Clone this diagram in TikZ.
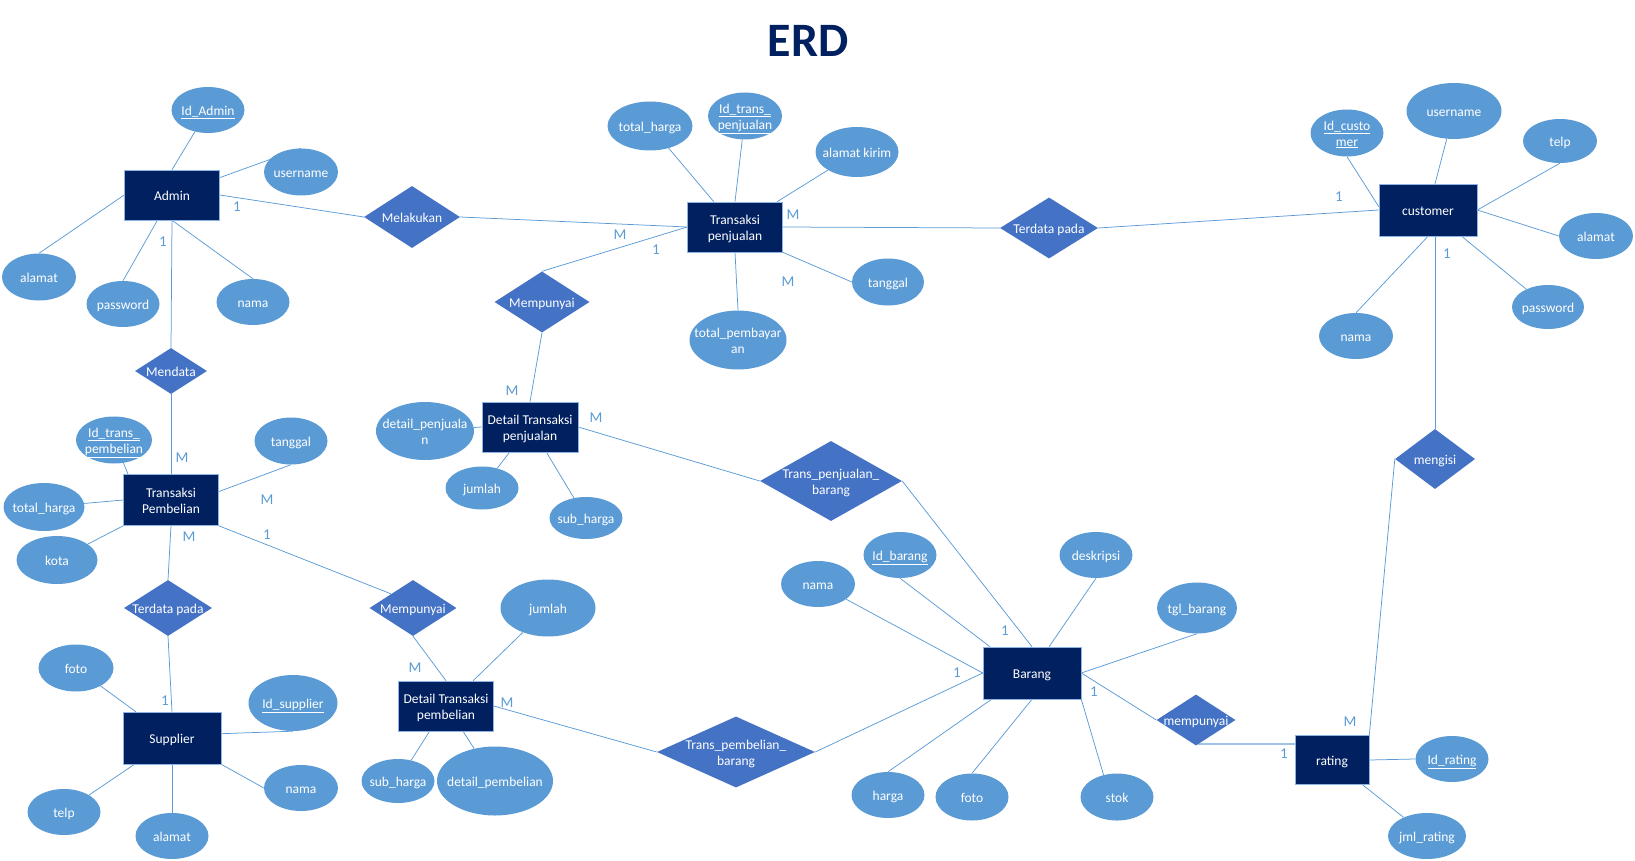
\documentclass[tikz,border=0pt]{standalone}
\usepackage{fontspec}
\setmainfont{Carlito}
\usetikzlibrary{shapes.geometric}
\definecolor{navy}{HTML}{002060}
\definecolor{relfill}{HTML}{4472C4}
\definecolor{attfill}{HTML}{5B9BD5}
\definecolor{linecol}{HTML}{5B9BD5}
\definecolor{cardcol}{HTML}{5B9BD5}
\definecolor{entline}{HTML}{8EB4E3}
\definecolor{thickline}{HTML}{9DC3E6}
\newcommand{\ndtxt}[1]{\makebox[0pt]{\raisebox{-2pt}[\height][\depth]{\begin{tabular}{@{}c@{}}#1\end{tabular}}}}
\pgfdeclarelayer{background}
\pgfsetlayers{background,main}
\tikzset{
  nfont/.style={font=\fontsize{13.5}{16}\selectfont, text=white},
  ent/.style 2 args={rectangle, fill=navy, draw=entline, line width=0.6pt, inner sep=0pt, minimum width=#1pt, minimum height=#2pt, nfont},
  rel/.style 2 args={diamond, fill=relfill, inner sep=0pt, minimum width=#1pt, minimum height=#2pt, nfont},
  att/.style 2 args={ellipse, fill=attfill, inner sep=0pt, minimum width=#1pt, minimum height=#2pt, nfont},
  conn/.style={draw=linecol, line width=0.75pt},
  conn2/.style={draw=thickline, line width=2pt},
  card/.style={text=cardcol, font=\fontsize{15}{17}\selectfont, inner sep=0pt},
  ttl/.style={text=navy, font=\fontsize{48}{54}\selectfont\bfseries, inner sep=0pt},
}
\begin{document}
\begin{tikzpicture}[x=1pt,y=-1pt]
\useasboundingbox (0,0) rectangle (1635,861);
\node[ttl] (title) at (808,41) {ERD};

% entities
\node[ent={95}{50}] (admin) at (172,195) {\ndtxt{Admin}};
\node[ent={95}{50}] (tjual) at (735,227) {\ndtxt{Transaksi\\penjualan}};
\node[ent={98}{52}] (cust) at (1428,210) {\ndtxt{customer}};
\node[ent={95}{51}] (tbeli) at (171,500) {\ndtxt{Transaksi\\Pembelian}};
\node[ent={96}{50}] (dtjual) at (530,427) {\ndtxt{Detail Transaksi\\penjualan}};
\node[ent={98}{52}] (supp) at (172,738) {\ndtxt{Supplier}};
\node[ent={95}{50}] (dtbeli) at (446,706) {\ndtxt{Detail Transaksi\\pembelian}};
\node[ent={98}{52}] (barang) at (1032,673) {\ndtxt{Barang}};
\node[ent={74}{49}] (rating) at (1332,760) {\ndtxt{rating}};

% relationships
\node[rel={96}{62}] (melakukan) at (412,217) {\ndtxt{Melakukan}};
\node[rel={98}{61}] (terdata1) at (1049,228) {\ndtxt{Terdata pada}};
\node[rel={95}{61}] (mempunyai1) at (542,302) {\ndtxt{Mempunyai}};
\node[rel={72}{46}] (mendata) at (171,371) {\ndtxt{Mendata}};
\node[rel={80}{60}] (mengisi) at (1435,459) {\ndtxt{mengisi}};
\node[rel={142}{80}] (tpb) at (831,481) {\ndtxt{Trans\_penjualan\_\\barang}};
\node[rel={88}{56}] (terdata2) at (168,608) {\ndtxt{Terdata pada}};
\node[rel={87}{56}] (mempunyai2) at (413,608) {\ndtxt{Mempunyai}};
\node[rel={158}{71}] (tbb) at (736,752) {\ndtxt{Trans\_pembelian\_\\barang}};
\node[rel={79}{51}] (mempunyai3) at (1196,720) {\ndtxt{mempunyai}};

% attributes
\node[att={73}{46}] (idadmin) at (208,110) {\ndtxt{\underline{Id\_Admin}}};
\node[att={74}{47}] (uname1) at (301,172) {\ndtxt{username}};
\node[att={74}{47}] (alamat1) at (39,277) {\ndtxt{alamat}};
\node[att={73}{46}] (pw1) at (123,304) {\ndtxt{password}};
\node[att={73}{46}] (nama1) at (253,302) {\ndtxt{nama}};
\node[att={85}{49}] (thj) at (650,126) {\ndtxt{total\_harga}};
\node[att={74}{47}] (idtj) at (745,116) {\ndtxt{\underline{Id\_trans\_}\\\underline{penjualan}}};
\node[att={83}{50}] (akirim) at (857,152) {\ndtxt{alamat kirim}};
\node[att={72}{47}] (tgl1) at (888,282) {\ndtxt{tanggal}};
\node[att={97}{59}] (tpbyr) at (738,340) {\ndtxt{total\_pembayar\\an}};
\node[att={73}{47}] (idcust) at (1347,133) {\ndtxt{\underline{Id\_custo}\\\underline{mer}}};
\node[att={95}{56}] (uname2) at (1454,111) {\ndtxt{username}};
\node[att={74}{44}] (telp2) at (1560,141) {\ndtxt{telp}};
\node[att={74}{46}] (alamat2) at (1596,236) {\ndtxt{alamat}};
\node[att={72}{44}] (pw2) at (1548,307) {\ndtxt{password}};
\node[att={74}{46}] (nama2) at (1356,336) {\ndtxt{nama}};
\node[att={73}{46}] (idrating) at (1452,759) {\ndtxt{\underline{Id\_rating}}};
\node[att={78}{46}] (jmlr) at (1427,836) {\ndtxt{jml\_rating}};
\node[att={98}{58}] (dpj) at (425,431) {\ndtxt{detail\_penjuala\\n}};
\node[att={73}{43}] (jml1) at (482,488) {\ndtxt{jumlah}};
\node[att={73}{42}] (sh1) at (586,518) {\ndtxt{sub\_harga}};
\node[att={76}{47}] (idtb) at (114,440) {\ndtxt{\underline{Id\_trans\_}\\\underline{pembelian}}};
\node[att={73}{47}] (tgl2) at (291,441) {\ndtxt{tanggal}};
\node[att={81}{48}] (th2) at (44,507) {\ndtxt{total\_harga}};
\node[att={81}{48}] (kota) at (57,560) {\ndtxt{kota}};
\node[att={75}{47}] (foto2) at (76,668) {\ndtxt{foto}};
\node[att={89}{56}] (idsupp) at (293,703) {\ndtxt{\underline{Id\_supplier}}};
\node[att={74}{46}] (nama4) at (301,788) {\ndtxt{nama}};
\node[att={73}{46}] (telp3) at (64,812) {\ndtxt{telp}};
\node[att={73}{46}] (alamat3) at (172,836) {\ndtxt{alamat}};
\node[att={95}{57}] (jml2) at (548,608) {\ndtxt{jumlah}};
\node[att={73}{44}] (sh2) at (398,781) {\ndtxt{sub\_harga}};
\node[att={116}{69}] (dpb) at (495,781) {\ndtxt{detail\_pembelian}};
\node[att={73}{46}] (idbarang) at (900,555) {\ndtxt{\underline{Id\_barang}}};
\node[att={74}{46}] (nama3) at (818,584) {\ndtxt{nama}};
\node[att={73}{46}] (desk) at (1096,555) {\ndtxt{deskripsi}};
\node[att={80}{51}] (tglb) at (1197,608) {\ndtxt{tgl\_barang}};
\node[att={73}{46}] (harga) at (888,795) {\ndtxt{harga}};
\node[att={73}{47}] (foto3) at (972,797) {\ndtxt{foto}};
\node[att={73}{47}] (stok) at (1117,797) {\ndtxt{stok}};

% cardinalities
\node[card] (c1) at (237,207) {1};
\node[card] (c2) at (163,242) {1};
\node[card] (c3) at (620,235) {M};
\node[card] (c4) at (656,250) {1};
\node[card] (c5) at (793,215) {M};
\node[card] (c6) at (788,282) {M};
\node[card] (c7) at (1339,197) {1};
\node[card] (c8) at (1447,254) {1};
\node[card] (c9) at (512,391) {M};
\node[card] (c10) at (596,418) {M};
\node[card] (c11) at (182,458) {M};
\node[card] (c12) at (267,500) {M};
\node[card] (c13) at (189,537) {M};
\node[card] (c14) at (267,535) {1};
\node[card] (c15) at (165,701) {1};
\node[card] (c16) at (415,668) {M};
\node[card] (c17) at (507,703) {M};
\node[card] (c18) at (1005,631) {1};
\node[card] (c19) at (957,673) {1};
\node[card] (c20) at (1094,692) {1};
\node[card] (c21) at (1284,754) {1};
\node[card] (c22) at (1350,722) {M};

\begin{pgfonlayer}{background}
% Admin
\draw[conn] (admin.north) -- (idadmin);
\draw[conn] (admin.20) -- (uname1.north);
\draw[conn] (admin.west) -- (alamat1.north);
\draw[conn] (admin.-120) -- (pw1.north);
\draw[conn] (admin.south) -- (nama1.north);
\draw[conn] (admin.south) -- (mendata.north);
\draw[conn] (admin.east) -- (melakukan.west);
% Transaksi penjualan
\draw[conn] (melakukan.east) -- (tjual.west);
\draw[conn] (tjual.130) -- (thj);
\draw[conn] (tjual.north) -- (idtj);
\draw[conn] (tjual.31) -- (akirim);
\draw[conn] (tjual.south east) -- (tgl1.west);
\draw[conn] (tjual.south) -- (tpbyr.north);
\draw[conn] (tjual.west) -- (mempunyai1.north);
\draw[conn] (tjual.east) -- (terdata1.west);
\draw[conn] (terdata1.east) -- (cust.west);
% customer
\draw[conn] (idcust.south) -- (cust.176);
\draw[conn] (cust.75) -- (uname2);
\draw[conn] (cust.east) -- (telp2.south);
\draw[conn] (cust.east) -- (alamat2.west);
\draw[conn] (cust.-38) -- (pw2);
\draw[conn] (cust.south) -- (nama2.north);
\draw[conn] (mengisi.north) -- (mengisi.north |- cust.south);
\draw[conn] (mengisi.west) -- (rating.north east);
% rating
\draw[conn] (rating.east) -- (idrating.west);
\draw[conn] (rating.-39) -- (jmlr);
\draw[conn2] (mempunyai3.-85) -- (mempunyai3.-85 -| rating.west);
% Barang
\draw[conn] (tpb.east) -- (barang.north);
\draw[conn] (barang.148) -- (idbarang.south);
\draw[conn] (barang.west) -- (nama3);
\draw[conn] (barang.57) -- (desk.south);
\draw[conn] (barang.east) -- (tglb.south);
\draw[conn] (tbb.east) -- (barang.west);
\draw[conn] (barang.-147) -- (harga.north);
\draw[conn] (barang.south) -- (foto3.north);
\draw[conn] (barang.east) -- (mempunyai3.west);
% Detail transaksi penjualan
\draw[conn] (mempunyai1.south) -- (dtjual.north);
\draw[conn] (dtjual.west) -- (dpj);
\draw[conn] (dtjual.-129) -- (jml1);
\draw[conn] (dtjual.-57) -- (sh1);
\draw[conn] (dtjual.east) -- (tpb.west);
% Transaksi pembelian
\draw[conn] (mendata.south) -- (tbeli.north);
\draw[conn] (tbeli.149) -- (idtb);
\draw[conn] (tbeli.10) -- (tgl2.south);
\draw[conn] (tbeli.west) -- (th2);
\draw[conn] (tbeli.south west) -- (kota);
\draw[conn] (tbeli.south) -- (terdata2.north);
\draw[conn] (tbeli.south east) -- (mempunyai2.north west);
% Supplier
\draw[conn] (terdata2.south) -- (supp.north);
\draw[conn] (supp.144) -- (foto2);
\draw[conn] (supp.5) -- (idsupp.south);
\draw[conn] (supp.south east) -- (nama4.west);
\draw[conn] (supp.-145) -- (telp3);
\draw[conn] (supp.south) -- (alamat3.north);
% Detail transaksi pembelian
\draw[conn] (mempunyai2.south) -- (dtbeli.north);
\draw[conn] (dtbeli.43) -- (jml2);
\draw[conn] (dtbeli.-123) -- (sh2);
\draw[conn] (dtbeli.-56) -- (dpb);
\draw[conn] (dtbeli.east) -- (tbb.west);
\end{pgfonlayer}
% line drawn across the stok ellipse
\draw[conn] (barang.south east) -- (stok.south);
\end{tikzpicture}
\end{document}
